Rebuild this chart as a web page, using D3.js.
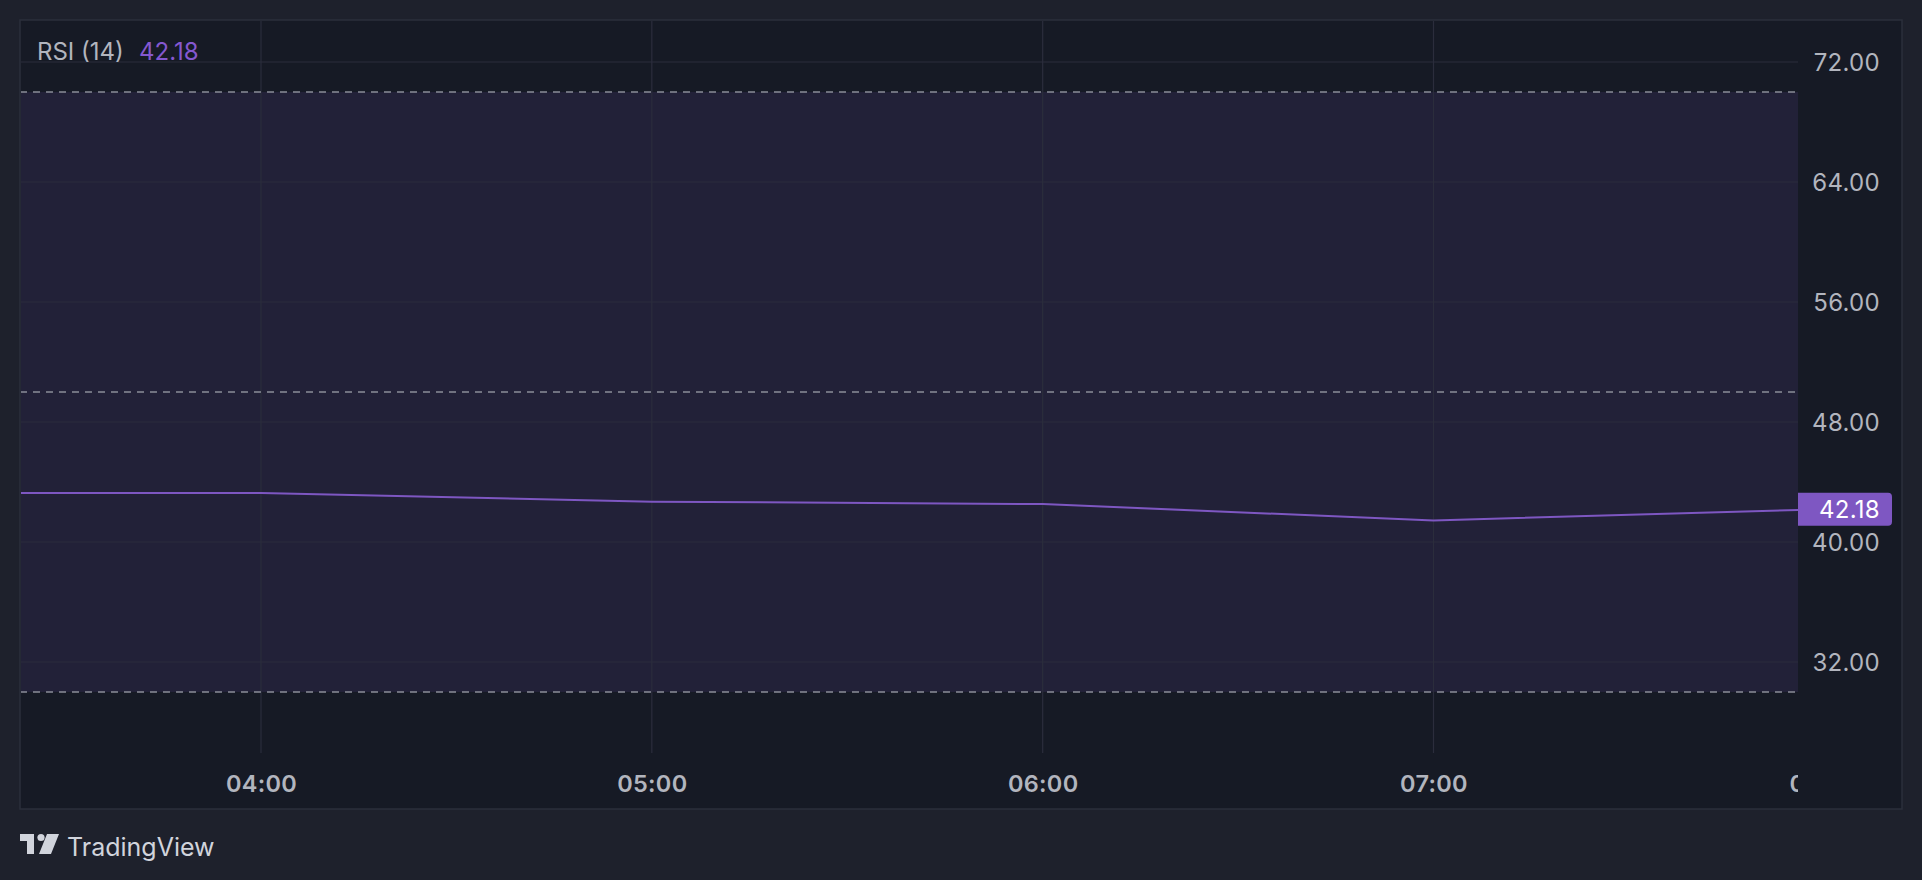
<!DOCTYPE html>
<html>
<head>
<meta charset="utf-8">
<script src="https://cdn.jsdelivr.net/npm/d3@7/dist/d3.min.js"></script>
<style>
  html, body { margin: 0; padding: 0; background: #1e212c; }
  svg { display: block; }
  text { font-family: Inter, "Noto Sans", sans-serif; }
</style>
</head>
<body>
<svg id="chart" width="1922" height="880"></svg>
<script>
// ---- data ----
const times = ["03:00", "04:00", "05:00", "06:00", "07:00", "08:00"];
const rsiValues = [43.27, 43.27, 42.69, 42.53, 41.44, 42.18];
const yTicks = [72, 64, 56, 48, 40, 32];
const xTickLabels = ["04:00", "05:00", "06:00", "07:00", "08:00"];
const bandLevels = [70, 50, 30];
const indicatorName = "RSI (14)";
const lastValue = 42.18;

// ---- layout ----
const W = 1922, H = 880;
const panel = { x0: 20, y0: 20, x1: 1902, y1: 809 };
const plotRight = 1798;
const plotBottom = 753;

const parse = d3.utcParse("%H:%M");
const data = times.map((t, i) => ({ t: parse(t), v: rsiValues[i] }));

const x = d3.scaleUtc()
  .domain([parse("04:00"), parse("07:00")])
  .range([261, 1433.5]);
const y = d3.scaleLinear().domain([72, 32]).range([62, 662]);

const svg = d3.select("#chart");

svg.append("rect").attr("width", W).attr("height", H).attr("fill", "#1e212c");

// panel background
svg.append("rect")
  .attr("x", panel.x0).attr("y", panel.y0)
  .attr("width", panel.x1 - panel.x0).attr("height", panel.y1 - panel.y0)
  .attr("fill", "#161a25")
  .attr("stroke", "#2b2f3b").attr("stroke-width", 1.5);

const defs = svg.append("defs");
defs.append("clipPath").attr("id", "plotClip")
  .append("rect")
  .attr("x", panel.x0 + 1).attr("y", panel.y0 + 1)
  .attr("width", plotRight - panel.x0 - 1).attr("height", plotBottom - panel.y0 - 1);

const plot = svg.append("g").attr("clip-path", "url(#plotClip)");

// purple band between 70 and 30
plot.append("rect")
  .attr("x", panel.x0).attr("y", y(bandLevels[0]))
  .attr("width", plotRight - panel.x0)
  .attr("height", y(bandLevels[2]) - y(bandLevels[0]))
  .attr("fill", "#7e57c2").attr("fill-opacity", 0.12);

// horizontal grid
plot.selectAll("line.hgrid").data(yTicks).join("line")
  .attr("class", "hgrid")
  .attr("x1", panel.x0).attr("x2", plotRight)
  .attr("y1", d => y(d)).attr("y2", d => y(d))
  .attr("stroke", "#2b2d3c").attr("stroke-width", 1.2);

// vertical grid
const xTickDates = xTickLabels.map(parse);
plot.selectAll("line.vgrid").data(xTickDates).join("line")
  .attr("class", "vgrid")
  .attr("x1", d => x(d)).attr("x2", d => x(d))
  .attr("y1", panel.y0).attr("y2", plotBottom)
  .attr("stroke", "#2b2d3c").attr("stroke-width", 1.2);

// dashed band lines
plot.selectAll("line.band").data(bandLevels).join("line")
  .attr("class", "band")
  .attr("x1", panel.x0).attr("x2", plotRight)
  .attr("y1", d => y(d)).attr("y2", d => y(d))
  .attr("stroke", "#8a8d98").attr("stroke-width", 1.3)
  .attr("stroke-dasharray", "7,6");

// RSI line
plot.append("path").datum(data)
  .attr("fill", "none")
  .attr("stroke", "#7e57c2").attr("stroke-width", 2)
  .attr("d", d3.line().x(d => x(d.t)).y(d => y(d.v)));

// y-axis labels
const yAxis = d3.axisRight(y).tickValues(yTicks).tickFormat(d3.format(".2f")).tickSize(0);
const yg = svg.append("g").attr("transform", `translate(1880,0)`).call(yAxis);
yg.select(".domain").remove();
yg.selectAll("text")
  .attr("x", 0).attr("text-anchor", "end").attr("dy", "0.35em")
  .attr("fill", "#b2b5be").style("font-size", "24px")
  .style("letter-spacing", "0.3px")
  .style("font-family", "Inter, sans-serif");

// last value label
const ly = y(lastValue);
const lab = svg.append("g");
lab.append("path")
  .attr("d", `M${plotRight},${ly - 16.5} H${1888} a4,4 0 0 1 4,4 V${ly + 12.5} a4,4 0 0 1 -4,4 H${plotRight} Z`)
  .attr("fill", "#7e57c2");
lab.append("text")
  .attr("x", 1880).attr("y", ly).attr("dy", "0.36em")
  .attr("text-anchor", "end").attr("fill", "#ffffff")
  .style("font-size", "24px").style("letter-spacing", "0.3px")
  .text(lastValue.toFixed(2));

// x-axis labels (clipped at plot right)
defs.append("clipPath").attr("id", "xClip")
  .append("rect").attr("x", panel.x0).attr("y", plotBottom)
  .attr("width", plotRight - panel.x0).attr("height", panel.y1 - plotBottom);
const xAxis = d3.axisBottom(x).tickValues(xTickDates).tickFormat(d3.utcFormat("%H:%M")).tickSize(0);
const xg = svg.append("g").attr("clip-path", "url(#xClip)")
  .append("g").attr("transform", `translate(0,784)`).call(xAxis);
xg.select(".domain").remove();
xg.selectAll("text")
  .attr("y", 0).attr("dy", "0.35em")
  .attr("fill", "#b2b5be").style("font-size", "23.5px").style("font-weight", 600)
  .style("letter-spacing", "0.3px")
  .style("font-family", "Inter, sans-serif");

// legend
const leg = svg.append("text").attr("x", 37).attr("y", 60).style("font-size", "24px");
leg.append("tspan").attr("fill", "#b2b5be").text(indicatorName);
leg.append("tspan").attr("x", 139).attr("fill", "#8558d0").text(lastValue.toFixed(2));

// TradingView logo
const logo = svg.append("g").attr("transform", "translate(20,834)");
logo.append("path").attr("d", "M0,0 H14 V20 H7 V7 H0 Z").attr("fill", "#d1d4dc");
logo.append("circle").attr("cx", 21).attr("cy", 3.5).attr("r", 3.6).attr("fill", "#d1d4dc");
logo.append("path").attr("d", "M27,0 H39 L31,20 H19 Z").attr("fill", "#d1d4dc");
svg.append("text").attr("x", 67).attr("y", 856)
  .attr("fill", "#d1d4dc").style("font-size", "25px").text("TradingView");
</script>
</body>
</html>
